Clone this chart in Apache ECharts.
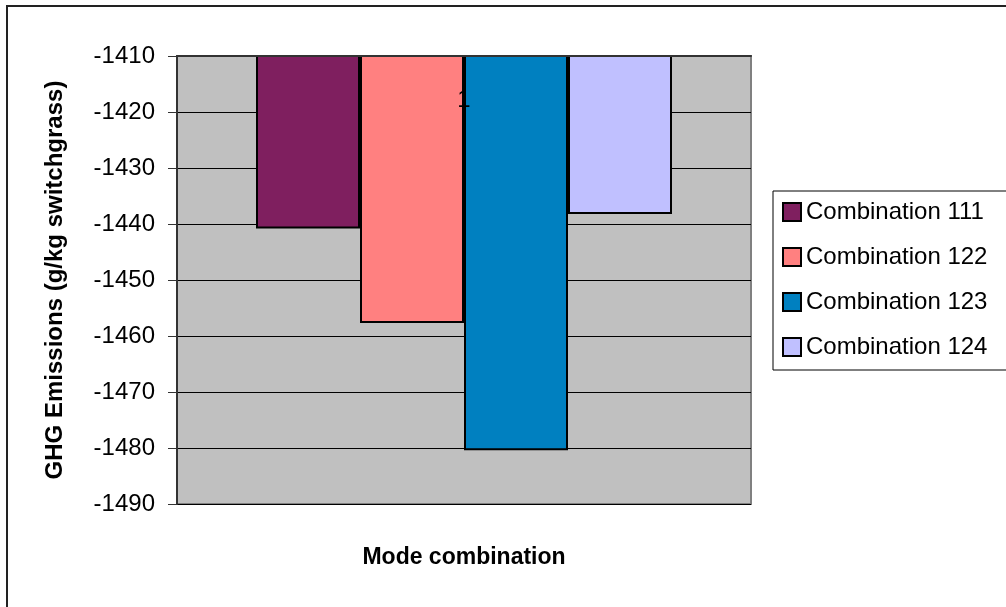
<!DOCTYPE html>
<html>
<head>
<meta charset="utf-8">
<script src="https://cdn.jsdelivr.net/npm/echarts@6/dist/echarts.min.js"></script>
<style>
html,body{margin:0;padding:0;background:#fff;}
#c{width:1006px;height:607px;}
</style>
</head>
<body>
<div id="c"></div>
<script>
const categories = ['1'];
const seriesNames = ['Combination 111', 'Combination 122', 'Combination 123', 'Combination 124'];
const seriesValues = [[-1440.8], [-1457.7], [-1480.4], [-1438.2]];
const seriesColors = ['#7F1F5F', '#FF8080', '#0080C0', '#C0C0FF'];
const yTicks = { min: -1490, max: -1410, interval: 10 };
const yTitle = 'GHG Emissions (g/kg switchgrass)';
const xTitle = 'Mode combination';

const FONT = 'Liberation Sans, Arial, sans-serif';
const chart = echarts.init(document.getElementById('c'), null, { renderer: 'canvas' });

const series = seriesNames.map((n, i) => ({
  name: n,
  type: 'bar',
  data: seriesValues[i],
  barWidth: 104,
  barGap: '0%',
  itemStyle: { color: seriesColors[i], borderColor: '#000', borderWidth: 2 },
  emphasis: { disabled: true }
}));

chart.setOption({
  animation: false,
  backgroundColor: '#fff',
  grid: {
    left: 177, top: 56, right: 255, bottom: 103,
    show: true, backgroundColor: '#C0C0C0', borderColor: '#808080', borderWidth: 2
  },
  legend: {
    orient: 'vertical',
    left: 773, top: 191,
    padding: [9, 40, 11, 9],
    itemWidth: 18, itemHeight: 18, itemGap: 21,
    icon: 'rect',
    borderColor: '#000', borderWidth: 1,
    backgroundColor: '#fff',
    textStyle: { fontFamily: FONT, fontSize: 24, color: '#000' },
    data: seriesNames
  },
  xAxis: {
    type: 'category',
    data: categories,
    position: 'top',
    z: 10,
    axisLine: { show: true, lineStyle: { color: '#333', width: 2 } },
    axisTick: { show: false },
    axisLabel: { inside: true, margin: 32, fontFamily: FONT, fontSize: 24, color: '#000' },
    splitLine: { show: false }
  },
  yAxis: {
    type: 'value',
    min: yTicks.min, max: yTicks.max, interval: yTicks.interval,
    name: yTitle,
    nameLocation: 'middle',
    nameRotate: 90,
    nameGap: 110,
    nameTextStyle: { fontFamily: FONT, fontSize: 24, fontWeight: 'bold', color: '#000' },
    axisLine: { show: true, lineStyle: { color: '#333', width: 2 } },
    axisTick: { show: true, inside: false, length: 9, lineStyle: { color: '#333', width: 1 } },
    axisLabel: { margin: 22, fontFamily: FONT, fontSize: 24, color: '#000', formatter: v => String(v) },
    splitLine: { show: true, lineStyle: { color: '#000', width: 1 } }
  },
  graphic: [
    {
      type: 'rect', silent: true, z: -10,
      shape: { x: 7, y: 6, width: 1100, height: 700 },
      style: { fill: 'none', stroke: '#222', lineWidth: 2 }
    },
    {
      type: 'text', silent: true,
      x: 464, y: 558,
      style: {
        text: xTitle, fontFamily: FONT, fontSize: 23, fontWeight: 'bold',
        fill: '#000', align: 'center', verticalAlign: 'middle'
      }
    }
  ],
  series: series
});
</script>
</body>
</html>
